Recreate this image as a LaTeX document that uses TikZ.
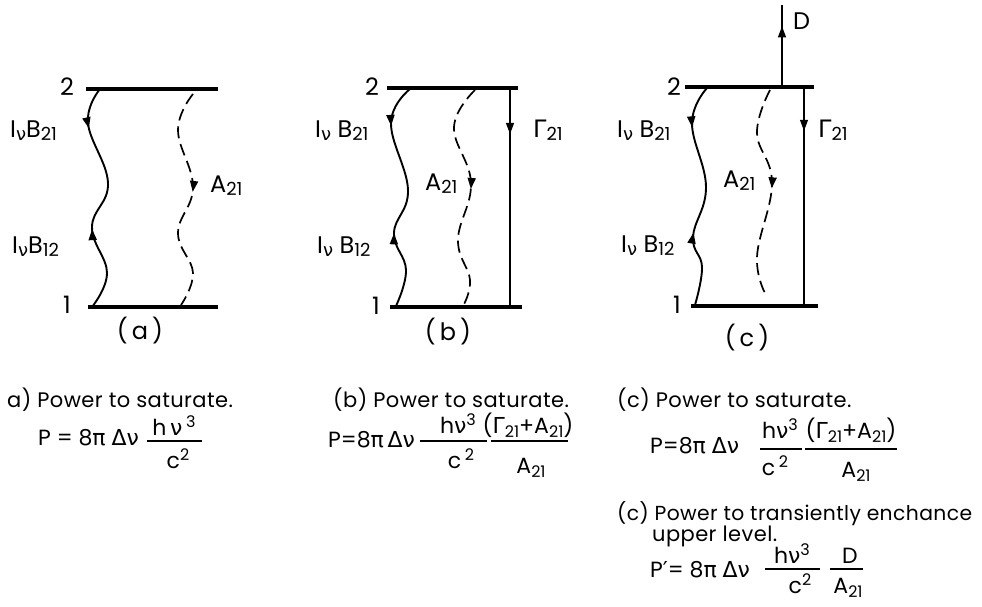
\documentclass[tikz,border=0pt]{standalone}
\usepackage{fontspec}
\setmainfont{Poppins}
\newfontfamily\gr{DejaVu Sans}
\newfontfamily\ttlfont[LetterSpace=2]{Poppins}
\usetikzlibrary{arrows.meta,decorations.markings}
\newcommand\lsub[1]{\raisebox{-3.5pt}{\fontsize{18}{18}\selectfont #1}}
\newcommand\fsub[1]{\raisebox{-4.5pt}{\fontsize{16}{16}\selectfont #1}}
\newcommand\fsup[1]{\raisebox{8pt}{\fontsize{16}{16}\selectfont #1}}
\tikzset{
  level/.style={line width=3.6pt},
  wave/.style={line width=1.9pt},
  dwave/.style={line width=1.7pt, dash pattern=on 12pt off 6pt},
  rate/.style={line width=1.1pt},
  bar/.style={line width=1.5pt},
  lbl/.style={font=\fontsize{24}{28}\selectfont, inner sep=0pt},
  txt/.style={font=\ttlfont\fontsize{21}{25}\selectfont, inner sep=0pt, anchor=base west},
  fml/.style={font=\fontsize{22}{26}\selectfont, inner sep=0pt, anchor=base},
  dn/.style={postaction={decorate,decoration={markings,mark=at position #1 with {\arrow{Triangle[length=11pt,width=8pt]}}}}},
  upw/.style={postaction={decorate,decoration={markings,mark=at position #1 with {\arrowreversed{Triangle[length=11pt,width=8pt]}}}}},
}
\begin{document}
\begin{tikzpicture}[x=1pt,y=-1pt]
\useasboundingbox (0,0) rectangle (982,607);
% ---------------- panel (a)
\coordinate (a2l) at (86,89);  \coordinate (a2r) at (218,89);
\coordinate (a1l) at (88,307); \coordinate (a1r) at (218,307);
\draw[level] (a2l) -- (a2r);
\draw[level] (a1l) -- (a1r);
\node[lbl] (a2n) at (67,87) {2};
\node[lbl] (a1n) at (67,305) {1};
\coordinate (as2) at (100,89); \coordinate (as1) at (92,307);
\draw[wave,dn=0.18,upw=0.64] plot[smooth,tension=0.7] coordinates {(as2) (88,123) (108,183) (92,227) (107,273) (as1)};
\coordinate (ad2) at (193,94); \coordinate (ad1) at (181,305);
\draw[dwave,dn=0.46] plot[smooth,tension=0.7] coordinates {(ad2) (178,130) (193,187) (178,233) (193,273) (ad1)};
\node[lbl,anchor=base west] (aB21) at (10,137) {I\lsub{\gr ν}B\lsub{21}};
\node[lbl,anchor=base west] (aB12) at (12,253) {I\lsub{\gr ν}B\lsub{12}};
\node[lbl,anchor=base west] (aA21) at (210,192) {A\lsub{21}};
\node[lbl] (acap) at (140,331) {(\,a\,)};
% ---------------- panel (b)
\coordinate (b2l) at (387,88);  \coordinate (b2r) at (518,88);
\coordinate (b1l) at (390,307); \coordinate (b1r) at (522,307);
\draw[level] (b2l) -- (b2r);
\draw[level] (b1l) -- (b1r);
\node[lbl] (b2n) at (372,87) {2};
\node[lbl] (b1n) at (376,306) {1};
\coordinate (bs2) at (410,89); \coordinate (bs1) at (396,306);
\draw[wave,dn=0.185,upw=0.67] plot[smooth,tension=0.7] coordinates {(bs2) (391,123) (408,190) (394,233) (406,270) (bs1)};
\coordinate (bd2) at (475,90); \coordinate (bd1) at (463,306);
\draw[dwave,dn=0.47] plot[smooth,tension=0.7] coordinates {(bd2) (454,127) (471,183) (458,240) (470,280) (bd1)};
\coordinate (bg2) at (510,88); \coordinate (bg1) at (510,307);
\draw[rate,dn=0.21] (bg2) -- (bg1);
\node[lbl,anchor=base west] (bB21) at (315,137) {I\lsub{\gr ν} B\lsub{21}};
\node[lbl,anchor=base west] (bB12) at (317,253) {I\lsub{\gr ν} B\lsub{12}};
\node[lbl,anchor=base west] (bA21) at (425,190) {A\lsub{21}};
\node[lbl,anchor=base west] (bG21) at (533,137) {{\gr Γ}\lsub{21}};
\node[lbl] (bcap) at (448,332) {(\,b\,)};
% ---------------- panel (c)
\coordinate (c2l) at (685,87);  \coordinate (c2r) at (814,87);
\coordinate (c1l) at (691,306); \coordinate (c1r) at (818,306);
\draw[level] (c2l) -- (c2r);
\draw[level] (c1l) -- (c1r);
\node[lbl] (c2n) at (674,87) {2};
\node[lbl] (c1n) at (677,305) {1};
\coordinate (cs2) at (707,88); \coordinate (cs1) at (695,305);
\draw[wave,dn=0.19,upw=0.67] plot[smooth,tension=0.7] coordinates {(cs2) (692,123) (706,187) (693,237) (702,267) (cs1)};
\coordinate (cd2) at (770,90); \coordinate (cd1) at (767,297);
\draw[dwave,dn=0.48] plot[smooth,tension=0.7] coordinates {(cd2) (757,133) (772,183) (757,257) (cd1)};
\coordinate (cg2) at (804,87); \coordinate (cg1) at (804,306);
\draw[rate,dn=0.2] (cg2) -- (cg1);
\coordinate (cD0) at (782,87); \coordinate (cD1) at (782,5);
\draw[rate,dn=0.74] (cD0) -- (cD1);
\node[lbl,anchor=base west] (cB21) at (617,137) {I\lsub{\gr ν} B\lsub{21}};
\node[lbl,anchor=base west] (cB12) at (621,252) {I\lsub{\gr ν} B\lsub{12}};
\node[lbl,anchor=base west] (cA21) at (723,187) {A\lsub{21}};
\node[lbl,anchor=base west] (cG21) at (818,137) {{\gr Γ}\lsub{21}};
\node[lbl,anchor=base west] (cD) at (793,30) {D};
\node[lbl] (ccap) at (747,338) {(\,c\,)};
% ---------------- captions
\node[txt] (ta) at (7,407) {a) Power to saturate.};
\node[txt] (tb) at (333,407) {(b) Power to saturate.};
\node[txt] (tc) at (617,407) {(c) Power to saturate.};
\node[txt,font=\ttlfont\fontsize{20.3}{25}\selectfont] (td) at (617,520) {(c) Power to transiently enchance};
\node[txt] (te) at (652,541) {upper level.};
% ---------------- formula (a)
\node[fml,anchor=base west] (faP) at (38,445) {P = 8{\gr π} {\gr Δν}};
\coordinate (fa1l) at (147,441); \coordinate (fa1r) at (202,441);
\draw[bar] (fa1l) -- (fa1r);
\node[fml] (fa1n) at (174,435) {h\,{\gr ν}\,\fsup{3}};
\node[fml] (fa1d) at (178,468) {c\fsup{2}};
% ---------------- formula (b)
\node[fml,anchor=base west] (fbP) at (328,447) {P=8{\gr π}\,{\gr Δ}{\gr ν}};
\coordinate (fb1l) at (420,441); \coordinate (fb1r) at (487,441);
\draw[bar] (fb1l) -- (fb1r);
\node[fml] (fb1n) at (458,433) {h{\gr ν}\fsup{3}};
\node[fml] (fb1d) at (461,468) {c\,\fsup{2}};
\coordinate (fb2l) at (491,441); \coordinate (fb2r) at (568,441);
\draw[bar] (fb2l) -- (fb2r);
\node[fml] (fb2n) at (528,433) {({\gr Γ}\fsub{21}+A\fsub{21})};
\node[fml] (fb2d) at (531,473) {A\fsub{21}};
% ---------------- formula (c)
\node[fml,anchor=base west] (fcP) at (650,453) {P=8{\gr π} {\gr Δν}};
\coordinate (fc1l) at (760,449); \coordinate (fc1r) at (802,449);
\draw[bar] (fc1l) -- (fc1r);
\node[fml] (fc1n) at (780,438) {h{\gr ν}\fsup{3}};
\node[fml] (fc1d) at (775,475) {c\,\fsup{2}};
\coordinate (fc2l) at (805,449); \coordinate (fc2r) at (897,449);
\draw[bar] (fc2l) -- (fc2r);
\node[fml] (fc2n) at (851,438) {({\gr Γ}\fsub{21}+A\fsub{21})};
\node[fml] (fc2d) at (856,477) {A\fsub{21}};
% ---------------- formula (c')
\node[fml,anchor=base west] (fdP) at (650,577) {P{\gr ′}= 8{\gr π} {\gr Δν}};
\coordinate (fd1l) at (765,569); \coordinate (fd1r) at (820,569);
\draw[bar] (fd1l) -- (fd1r);
\node[fml] (fd1n) at (792,563) {h{\gr ν}\fsup{3}};
\node[fml] (fd1d) at (800,593) {c\fsup{2}};
\coordinate (fd2l) at (830,569); \coordinate (fd2r) at (863,569);
\draw[bar] (fd2l) -- (fd2r);
\node[fml] (fd2n) at (850,563) {D};
\node[fml] (fd2d) at (848,593) {A\fsub{21}};
\end{tikzpicture}
\end{document}
